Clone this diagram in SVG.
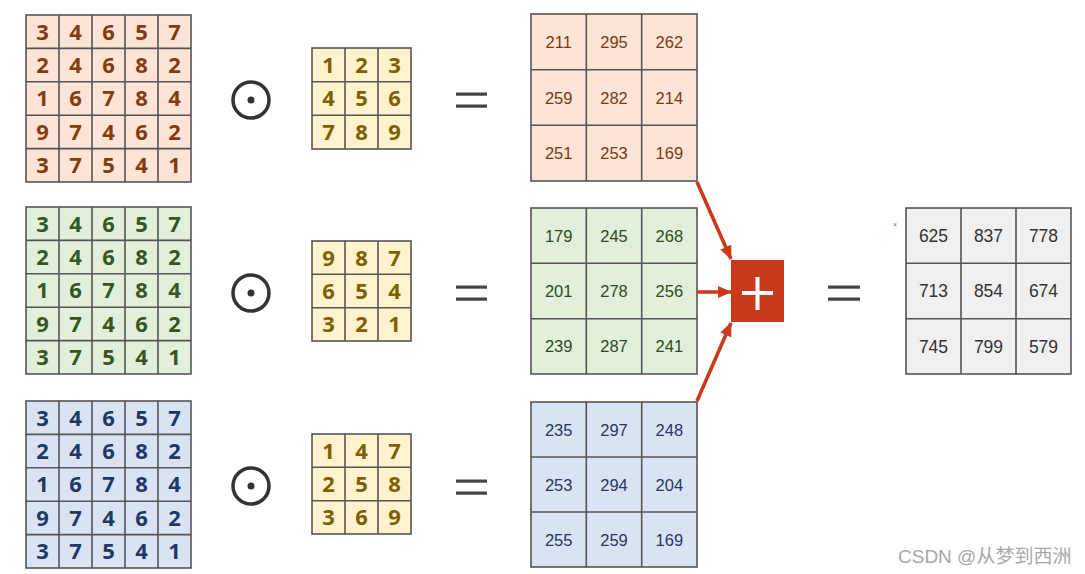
<svg xmlns="http://www.w3.org/2000/svg" width="1085" height="574" viewBox="0 0 1085 574">
<style>
.g{stroke:#555;stroke-width:1.6;}
.d{font-family:"Open Sans","Noto Sans",sans-serif;font-weight:700;font-size:22px;text-anchor:middle;}
.n{font-family:"Liberation Sans",Arial,sans-serif;font-size:16.5px;text-anchor:middle;}
.f{font-family:"Liberation Sans",Arial,sans-serif;font-size:17.5px;text-anchor:middle;fill:#333;}
.or{fill:#843c0c}.og{fill:#375623}.ob{fill:#1f3864}.ok{fill:#7f6000}
.rr{fill:#7a3a12}.rg{fill:#2f4a22}.rb{fill:#26385e}
.eq{fill:#444}
.odot circle.o{fill:none;stroke:#333;stroke-width:3.5}
.odot circle.c{fill:#333}
.arr{stroke:#c9391a;stroke-width:3.6;fill:none}
</style>
<defs>
<marker id="ah" markerWidth="14" markerHeight="12" refX="13" refY="6" orient="auto" markerUnits="userSpaceOnUse">
<path d="M0,0 L14,6 L0,12 z" fill="#c9391a"/>
</marker>
</defs>
<rect width="1085" height="574" fill="#fff"/>

<!-- Input 5x5 matrices -->
<g id="input-r">
<rect x="26" y="15" width="165" height="167" fill="#fce4d6" class="g"/>
<path class="g" d="M59,15V182M92,15V182M125,15V182M158,15V182M26,48.4H191M26,81.8H191M26,115.2H191M26,148.6H191"/>
<g class="d or">
<text x="42.5" y="39.5">3</text><text x="75.5" y="39.5">4</text><text x="108.5" y="39.5">6</text><text x="141.5" y="39.5">5</text><text x="174.5" y="39.5">7</text>
<text x="42.5" y="72.9">2</text><text x="75.5" y="72.9">4</text><text x="108.5" y="72.9">6</text><text x="141.5" y="72.9">8</text><text x="174.5" y="72.9">2</text>
<text x="42.5" y="106.3">1</text><text x="75.5" y="106.3">6</text><text x="108.5" y="106.3">7</text><text x="141.5" y="106.3">8</text><text x="174.5" y="106.3">4</text>
<text x="42.5" y="139.7">9</text><text x="75.5" y="139.7">7</text><text x="108.5" y="139.7">4</text><text x="141.5" y="139.7">6</text><text x="174.5" y="139.7">2</text>
<text x="42.5" y="173.1">3</text><text x="75.5" y="173.1">7</text><text x="108.5" y="173.1">5</text><text x="141.5" y="173.1">4</text><text x="174.5" y="173.1">1</text>
</g>
</g>
<g id="input-g">
<rect x="26" y="207" width="165" height="167" fill="#e2efda" class="g"/>
<path class="g" d="M59,207V374M92,207V374M125,207V374M158,207V374M26,240.4H191M26,273.8H191M26,307.2H191M26,340.6H191"/>
<g class="d og">
<text x="42.5" y="231.5">3</text><text x="75.5" y="231.5">4</text><text x="108.5" y="231.5">6</text><text x="141.5" y="231.5">5</text><text x="174.5" y="231.5">7</text>
<text x="42.5" y="264.9">2</text><text x="75.5" y="264.9">4</text><text x="108.5" y="264.9">6</text><text x="141.5" y="264.9">8</text><text x="174.5" y="264.9">2</text>
<text x="42.5" y="298.3">1</text><text x="75.5" y="298.3">6</text><text x="108.5" y="298.3">7</text><text x="141.5" y="298.3">8</text><text x="174.5" y="298.3">4</text>
<text x="42.5" y="331.7">9</text><text x="75.5" y="331.7">7</text><text x="108.5" y="331.7">4</text><text x="141.5" y="331.7">6</text><text x="174.5" y="331.7">2</text>
<text x="42.5" y="365.1">3</text><text x="75.5" y="365.1">7</text><text x="108.5" y="365.1">5</text><text x="141.5" y="365.1">4</text><text x="174.5" y="365.1">1</text>
</g>
</g>
<g id="input-b">
<rect x="26" y="401" width="165" height="167" fill="#dae3f3" class="g"/>
<path class="g" d="M59,401V568M92,401V568M125,401V568M158,401V568M26,434.4H191M26,467.8H191M26,501.2H191M26,534.6H191"/>
<g class="d ob">
<text x="42.5" y="425.5">3</text><text x="75.5" y="425.5">4</text><text x="108.5" y="425.5">6</text><text x="141.5" y="425.5">5</text><text x="174.5" y="425.5">7</text>
<text x="42.5" y="458.9">2</text><text x="75.5" y="458.9">4</text><text x="108.5" y="458.9">6</text><text x="141.5" y="458.9">8</text><text x="174.5" y="458.9">2</text>
<text x="42.5" y="492.3">1</text><text x="75.5" y="492.3">6</text><text x="108.5" y="492.3">7</text><text x="141.5" y="492.3">8</text><text x="174.5" y="492.3">4</text>
<text x="42.5" y="525.7">9</text><text x="75.5" y="525.7">7</text><text x="108.5" y="525.7">4</text><text x="141.5" y="525.7">6</text><text x="174.5" y="525.7">2</text>
<text x="42.5" y="559.1">3</text><text x="75.5" y="559.1">7</text><text x="108.5" y="559.1">5</text><text x="141.5" y="559.1">4</text><text x="174.5" y="559.1">1</text>
</g>
</g>

<!-- odot operators -->
<g id="odot-1" class="odot"><circle class="o" cx="251" cy="100" r="18"/><circle class="c" cx="251" cy="100" r="3.5"/></g>
<g id="odot-2" class="odot"><circle class="o" cx="251" cy="293" r="18"/><circle class="c" cx="251" cy="293" r="3.5"/></g>
<g id="odot-3" class="odot"><circle class="o" cx="251" cy="486" r="18"/><circle class="c" cx="251" cy="486" r="3.5"/></g>

<!-- Kernels -->
<g id="kernel-1">
<rect x="312" y="48" width="99" height="101" fill="#fff2cc" class="g"/>
<path class="g" d="M345,48V149M378,48V149M312,81.7H411M312,115.3H411"/>
<g class="d ok">
<text x="328.5" y="72.6">1</text><text x="361.5" y="72.6">2</text><text x="394.5" y="72.6">3</text>
<text x="328.5" y="106.3">4</text><text x="361.5" y="106.3">5</text><text x="394.5" y="106.3">6</text>
<text x="328.5" y="140">7</text><text x="361.5" y="140">8</text><text x="394.5" y="140">9</text>
</g>
</g>
<g id="kernel-2">
<rect x="312" y="241" width="99" height="100" fill="#fff2cc" class="g"/>
<path class="g" d="M345,241V341M378,241V341M312,274.3H411M312,307.7H411"/>
<g class="d ok">
<text x="328.5" y="265.5">9</text><text x="361.5" y="265.5">8</text><text x="394.5" y="265.5">7</text>
<text x="328.5" y="298.8">6</text><text x="361.5" y="298.8">5</text><text x="394.5" y="298.8">4</text>
<text x="328.5" y="332.1">3</text><text x="361.5" y="332.1">2</text><text x="394.5" y="332.1">1</text>
</g>
</g>
<g id="kernel-3">
<rect x="312" y="434" width="99" height="100" fill="#fff2cc" class="g"/>
<path class="g" d="M345,434V534M378,434V534M312,467.3H411M312,500.7H411"/>
<g class="d ok">
<text x="328.5" y="458.5">1</text><text x="361.5" y="458.5">4</text><text x="394.5" y="458.5">7</text>
<text x="328.5" y="491.8">2</text><text x="361.5" y="491.8">5</text><text x="394.5" y="491.8">8</text>
<text x="328.5" y="525.1">3</text><text x="361.5" y="525.1">6</text><text x="394.5" y="525.1">9</text>
</g>
</g>

<!-- Equals signs -->
<g id="eq-1" class="eq"><rect x="456" y="92.5" width="31" height="3.2"/><rect x="456" y="104.5" width="31" height="3.2"/></g>
<g id="eq-2" class="eq"><rect x="456" y="285.5" width="31" height="3.2"/><rect x="456" y="297.5" width="31" height="3.2"/></g>
<g id="eq-3" class="eq"><rect x="456" y="479.5" width="31" height="3.2"/><rect x="456" y="491.5" width="31" height="3.2"/></g>
<g id="eq-4" class="eq"><rect x="828" y="285.5" width="32" height="3.2"/><rect x="828" y="297.5" width="32" height="3.2"/></g>

<!-- Result matrices -->
<g id="result-1">
<rect x="531" y="14" width="166" height="167" fill="#fce4d6" class="g"/>
<path class="g" d="M586.3,14V181M641.7,14V181M531,69.7H697M531,125.3H697"/>
<g class="n rr">
<text x="558.7" y="47.8">211</text><text x="614" y="47.8">295</text><text x="669.3" y="47.8">262</text>
<text x="558.7" y="103.5">259</text><text x="614" y="103.5">282</text><text x="669.3" y="103.5">214</text>
<text x="558.7" y="159.2">251</text><text x="614" y="159.2">253</text><text x="669.3" y="159.2">169</text>
</g>
</g>
<g id="result-2">
<rect x="531" y="208" width="166" height="166" fill="#e2efda" class="g"/>
<path class="g" d="M586.3,208V374M641.7,208V374M531,263.3H697M531,318.7H697"/>
<g class="n rg">
<text x="558.7" y="241.7">179</text><text x="614" y="241.7">245</text><text x="669.3" y="241.7">268</text>
<text x="558.7" y="297">201</text><text x="614" y="297">278</text><text x="669.3" y="297">256</text>
<text x="558.7" y="352.3">239</text><text x="614" y="352.3">287</text><text x="669.3" y="352.3">241</text>
</g>
</g>
<g id="result-3">
<rect x="531" y="402" width="166" height="165" fill="#dae3f3" class="g"/>
<path class="g" d="M586.3,402V567M641.7,402V567M531,457H697M531,512H697"/>
<g class="n rb">
<text x="558.7" y="435.5">235</text><text x="614" y="435.5">297</text><text x="669.3" y="435.5">248</text>
<text x="558.7" y="490.5">253</text><text x="614" y="490.5">294</text><text x="669.3" y="490.5">204</text>
<text x="558.7" y="545.5">255</text><text x="614" y="545.5">259</text><text x="669.3" y="545.5">169</text>
</g>
</g>

<!-- Connectors -->
<g id="connectors">
<path class="arr" d="M697,182 L731,259" marker-end="url(#ah)"/>
<path class="arr" d="M697,292 L731,292" marker-end="url(#ah)"/>
<path class="arr" d="M697,401 L731,323" marker-end="url(#ah)"/>
</g>

<!-- Plus node -->
<g id="plus">
<rect x="731" y="260" width="53" height="62" fill="#c9391a"/>
<rect x="742" y="291" width="31" height="4" fill="#fff"/>
<rect x="755.5" y="277" width="4" height="33" fill="#fff"/>
</g>

<!-- Final result -->
<g id="final">
<text x="895" y="227" font-family="Liberation Sans,Arial,sans-serif" font-size="7" fill="#c04050" text-anchor="middle">×</text>
<rect x="906" y="208" width="165" height="166" fill="#f0f0f0" class="g"/>
<path class="g" d="M961,208V374M1016,208V374M906,263.3H1071M906,318.7H1071"/>
<g class="f">
<text x="933.5" y="242">625</text><text x="988.5" y="242">837</text><text x="1043.5" y="242">778</text>
<text x="933.5" y="297.3">713</text><text x="988.5" y="297.3">854</text><text x="1043.5" y="297.3">674</text>
<text x="933.5" y="352.6">745</text><text x="988.5" y="352.6">799</text><text x="1043.5" y="352.6">579</text>
</g>
</g>

<text x="898" y="563" font-family="Liberation Sans,'Noto Sans CJK SC',sans-serif" font-size="19" fill="#a8a8a8">CSDN @从梦到西洲</text>
</svg>
